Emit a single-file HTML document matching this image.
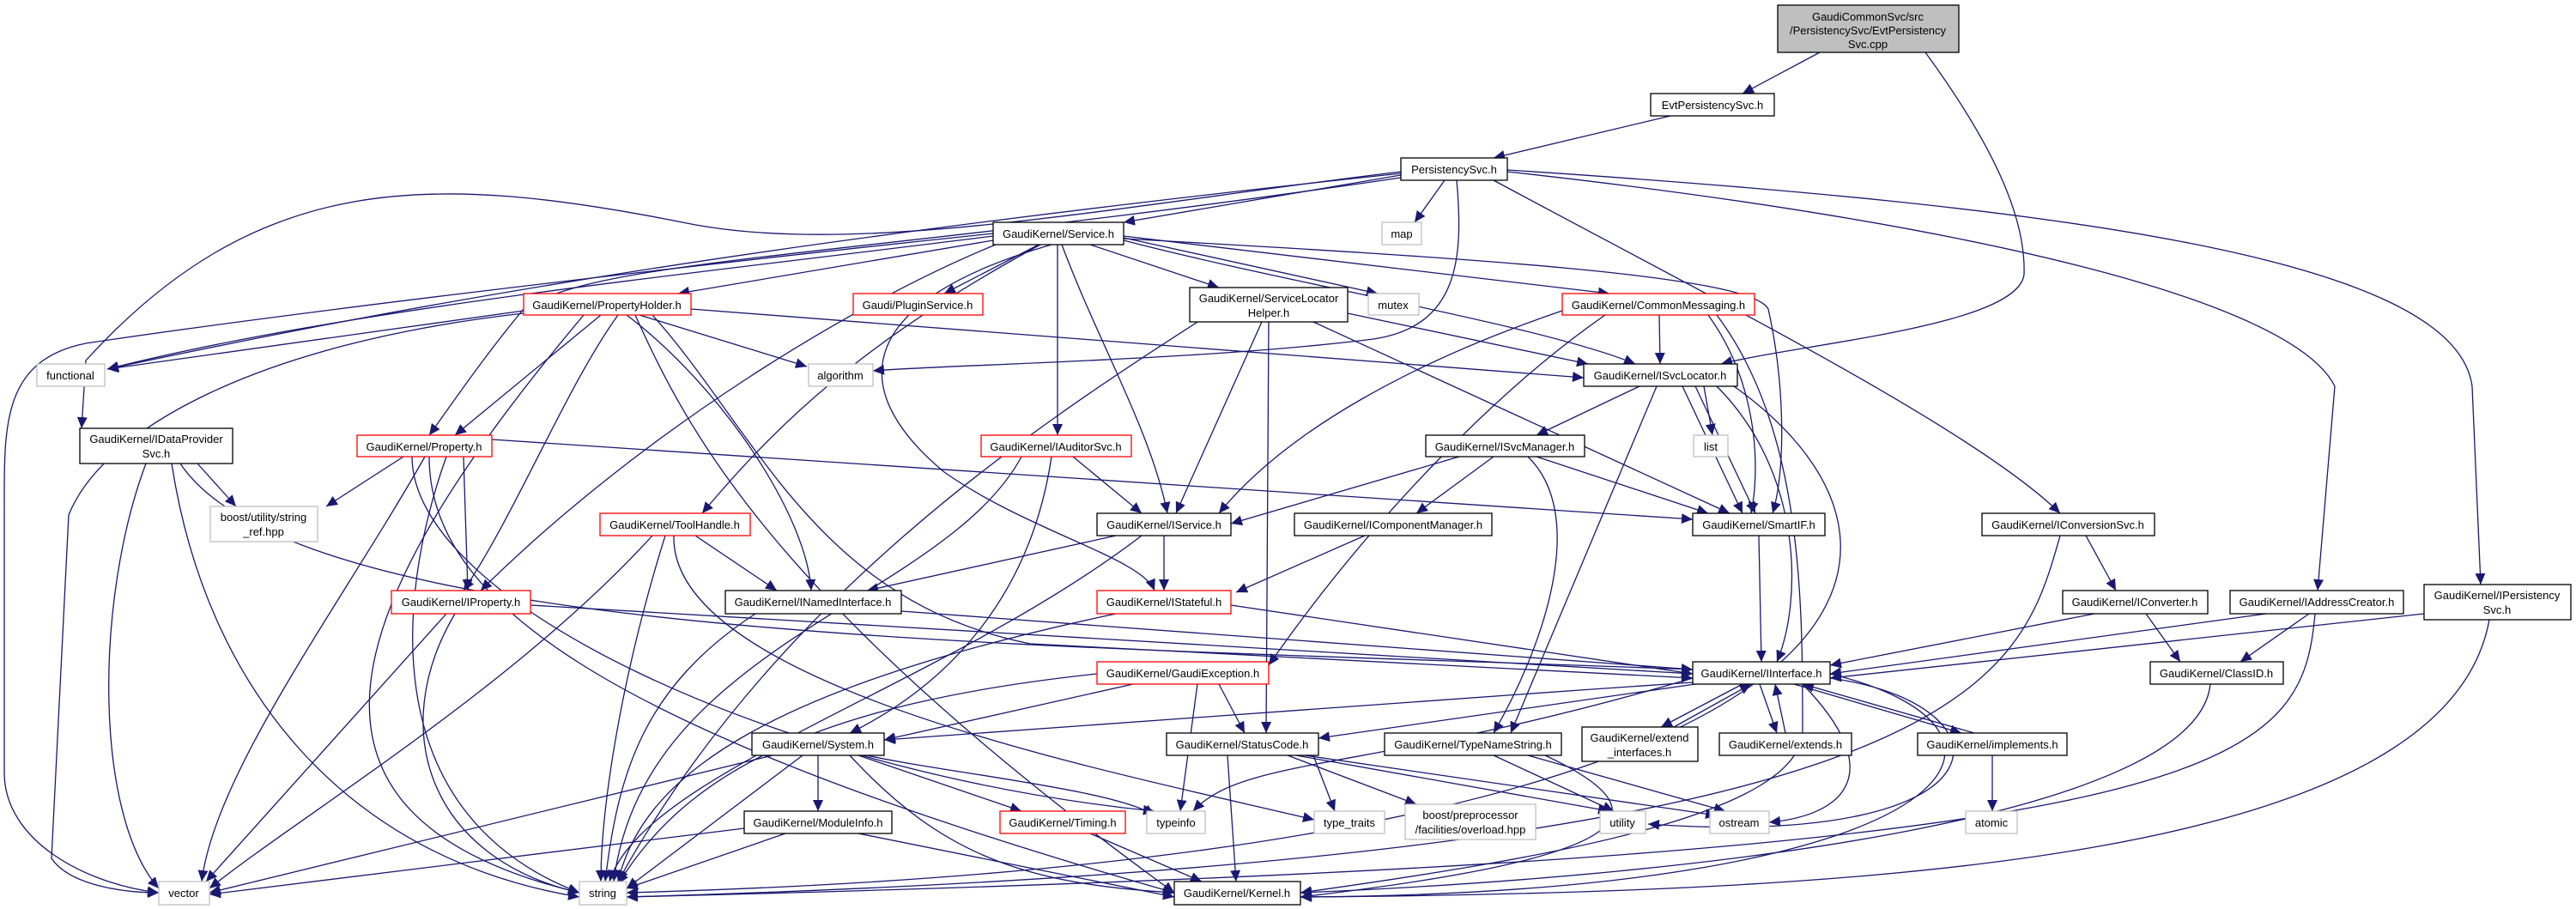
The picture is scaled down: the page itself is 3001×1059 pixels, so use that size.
<!DOCTYPE html>
<html><head><meta charset="utf-8"><style>
html,body{margin:0;padding:0;background:#fff;}
svg{display:block;}
text{font-family:"Liberation Sans",sans-serif;font-size:13px;fill:#000;}
.e{fill:none;stroke:#191970;stroke-width:1.3;marker-end:url(#a);}
.b rect{fill:#fff;stroke:#000;stroke-width:1.3;}
.r rect{fill:#fff;stroke:#ff0000;stroke-width:1.3;}
.g rect{fill:#fff;stroke:#bfbfbf;stroke-width:1.3;}
</style></head><body>
<svg width="3001" height="1059" viewBox="0 0 3001 1059" xmlns="http://www.w3.org/2000/svg">
<defs><marker id="a" markerUnits="userSpaceOnUse" markerWidth="14" markerHeight="12" refX="13" refY="6" orient="auto"><path d="M0,0 L13,6 L0,12 z" fill="#191970"/></marker></defs>
<g>
<path class="e" d="M2120,61 L2030,109"/>
<path class="e" d="M2243,61 C2330,180 2360,260 2358,320 C2350,380 2100,400 2005,424"/>
<path class="e" d="M1946,135 L1740,184"/>
<path class="e" d="M1632,204 L1309,259"/>
<path class="e" d="M1683,210 L1648,259"/>
<path class="e" d="M1697,210 C1705,300 1700,380 1600,395 C1400,420 1100,425 1017,432"/>
<path class="e" d="M1632,200 C1300,240 1000,300 800,260 C500,200 300,200 100,420 L95,499"/>
<path class="e" d="M1632,207 C1000,300 700,300 610,360 C560,420 520,480 500,507"/>
<path class="e" d="M1632,202 C900,280 500,350 125,430"/>
<path class="e" d="M1740,210 C2000,350 2300,500 2400,598"/>
<path class="e" d="M1756,200 C2300,260 2670,350 2720,450 L2700,688"/>
<path class="e" d="M1756,198 C2400,240 2860,300 2880,450 L2890,681"/>
<path class="e" d="M1157,280 L790,342"/>
<path class="e" d="M1210,285 L1100,342"/>
<path class="e" d="M1270,285 L1420,335"/>
<path class="e" d="M1309,277 L1605,342"/>
<path class="e" d="M1309,275 L1875,342"/>
<path class="e" d="M1309,280 C1500,330 1800,380 1905,424"/>
<path class="e" d="M1309,278 C1700,300 2040,320 2060,360 C2080,450 2080,550 2065,598"/>
<path class="e" d="M1232,285 L1232,507"/>
<path class="e" d="M1237,285 C1280,400 1340,500 1360,598"/>
<path class="e" d="M1225,285 C1000,350 980,450 1100,550 C1200,620 1330,650 1345,688"/>
<path class="e" d="M1212,285 C1000,400 900,500 818,598"/>
<path class="e" d="M1160,285 C1000,350 750,500 560,688"/>
<path class="e" d="M1157,275 C800,320 400,360 125,430"/>
<path class="e" d="M1157,272 C700,320 300,370 100,400 C0,420 5,500 5,600 L5,900 C5,980 100,1030 185,1040"/>
<path class="e" d="M610,362 L125,430"/>
<path class="e" d="M745,367 L940,427"/>
<path class="e" d="M610,365 C300,400 120,500 80,600 L60,1000 C80,1030 140,1040 185,1040"/>
<path class="e" d="M700,367 L530,507"/>
<path class="e" d="M720,367 C660,450 600,600 540,688"/>
<path class="e" d="M730,367 C840,450 940,600 945,688"/>
<path class="e" d="M805,360 L1845,440"/>
<path class="e" d="M680,367 C400,700 300,950 675,1040"/>
<path class="e" d="M760,367 C880,500 950,700 1200,750 L1972,790"/>
<path class="e" d="M740,367 C800,500 900,700 1368,1040"/>
<path class="e" d="M470,532 L380,590"/>
<path class="e" d="M540,532 L545,688"/>
<path class="e" d="M573,512 L1972,605"/>
<path class="e" d="M495,532 C400,700 250,900 235,1027"/>
<path class="e" d="M520,532 C460,700 440,950 675,1040"/>
<path class="e" d="M500,532 C500,700 700,850 1368,1040"/>
<path class="e" d="M480,532 C480,700 900,900 1345,945"/>
<path class="e" d="M230,540 L275,590"/>
<path class="e" d="M170,540 C110,700 110,950 185,1035"/>
<path class="e" d="M200,540 C240,800 400,1000 675,1045"/>
<path class="e" d="M210,540 C350,750 1200,750 1972,780"/>
<path class="e" d="M810,624 L905,688"/>
<path class="e" d="M760,624 C600,800 350,950 244,1035"/>
<path class="e" d="M775,624 C720,800 700,950 700,1027"/>
<path class="e" d="M785,624 C780,800 1300,900 1531,955"/>
<path class="e" d="M1300,624 L1010,688"/>
<path class="e" d="M1356,624 L1356,688"/>
<path class="e" d="M1330,624 C1100,800 750,900 710,1027"/>
<path class="e" d="M1250,532 L1330,598"/>
<path class="e" d="M1225,532 C1200,700 1100,800 990,854"/>
<path class="e" d="M1190,532 C1100,700 750,750 715,1027"/>
<path class="e" d="M1470,375 L1370,598"/>
<path class="e" d="M1530,375 L2015,598"/>
<path class="e" d="M1570,365 L1850,424"/>
<path class="e" d="M1478,375 L1475,854"/>
<path class="e" d="M1400,372 C1200,500 900,700 720,1027"/>
<path class="e" d="M1933,367 L1934,424"/>
<path class="e" d="M1990,367 C2050,450 2050,550 2040,598"/>
<path class="e" d="M1820,362 C1650,420 1500,500 1420,598"/>
<path class="e" d="M1870,367 C1750,450 1600,600 1478,775"/>
<path class="e" d="M2000,367 C2100,500 2100,700 2100,850 C2100,950 1800,1000 1515,1040"/>
<path class="e" d="M1910,450 L1790,507"/>
<path class="e" d="M1985,450 L1995,507"/>
<path class="e" d="M1960,450 L2030,598"/>
<path class="e" d="M1975,450 L2045,598"/>
<path class="e" d="M2000,450 C2100,550 2100,700 2070,771"/>
<path class="e" d="M1930,450 L1760,854"/>
<path class="e" d="M2020,450 C2300,650 2200,1000 730,1040"/>
<path class="e" d="M1700,532 L1434,610"/>
<path class="e" d="M1740,532 L1650,598"/>
<path class="e" d="M1790,532 L1990,598"/>
<path class="e" d="M1780,532 C1850,600 1800,750 1740,854"/>
<path class="e" d="M1590,624 L1440,690"/>
<path class="e" d="M2049,624 L2052,771"/>
<path class="e" d="M2430,624 L2465,688"/>
<path class="e" d="M2400,624 C2350,800 2300,1000 730,1045"/>
<path class="e" d="M2440,715 L2132,775"/>
<path class="e" d="M2500,715 L2540,771"/>
<path class="e" d="M2640,715 L2132,785"/>
<path class="e" d="M2690,715 L2610,771"/>
<path class="e" d="M2697,715 C2680,900 2600,1000 730,1045"/>
<path class="e" d="M2824,715 L2132,790"/>
<path class="e" d="M2900,722 C2850,1000 2200,1040 1515,1045"/>
<path class="e" d="M2575,797 C2560,950 2000,1020 1515,1040"/>
<path class="e" d="M1972,795 C1600,820 1200,850 1030,862"/>
<path class="e" d="M1975,797 L1536,860"/>
<path class="e" d="M2030,797 L1935,847"/>
<path class="e" d="M1950,847 L2040,797"/>
<path class="e" d="M2050,797 L2070,854"/>
<path class="e" d="M2080,854 L2068,797"/>
<path class="e" d="M2090,797 L2285,854"/>
<path class="e" d="M2300,854 L2100,797"/>
<path class="e" d="M2100,797 C2200,900 2150,950 2061,958"/>
<path class="e" d="M2132,790 C2350,820 2350,990 1920,960"/>
<path class="e" d="M2132,785 C2400,850 2300,1040 1515,1045"/>
<path class="e" d="M1972,790 C1600,900 1450,880 1390,945"/>
<path class="e" d="M1050,712 L1972,780"/>
<path class="e" d="M618,705 L1972,785"/>
<path class="e" d="M1434,705 L1972,785"/>
<path class="e" d="M1300,715 C900,800 750,900 720,1027"/>
<path class="e" d="M520,715 L240,1027"/>
<path class="e" d="M530,715 C450,850 500,1000 675,1040"/>
<path class="e" d="M880,715 C750,800 720,900 705,1027"/>
<path class="e" d="M1320,797 L1030,862"/>
<path class="e" d="M1420,797 L1450,854"/>
<path class="e" d="M1278,785 C950,820 800,900 720,1030"/>
<path class="e" d="M1395,797 L1375,945"/>
<path class="e" d="M953,880 L953,945"/>
<path class="e" d="M1000,880 L1190,945"/>
<path class="e" d="M1010,880 C1100,900 1300,920 1345,950"/>
<path class="e" d="M900,880 L244,1040"/>
<path class="e" d="M935,880 L730,1035"/>
<path class="e" d="M990,880 C1100,1000 1200,1030 1368,1040"/>
<path class="e" d="M1530,880 L1555,945"/>
<path class="e" d="M1500,880 L1650,937"/>
<path class="e" d="M1510,880 L1875,945"/>
<path class="e" d="M1520,880 L2000,950"/>
<path class="e" d="M1430,880 L1440,1027"/>
<path class="e" d="M1740,880 L1880,945"/>
<path class="e" d="M1800,880 C1950,950 1900,1000 1515,1045"/>
<path class="e" d="M1780,880 L2010,945"/>
<path class="e" d="M867,965 L244,1042"/>
<path class="e" d="M915,971 L730,1035"/>
<path class="e" d="M1000,971 L1368,1045"/>
<path class="e" d="M1270,971 L1400,1027"/>
<path class="e" d="M2321,880 L2321,945"/>
</g>
<g text-anchor="middle">
<g class="b"><rect x="2071" y="6" width="211" height="55" style="fill:#bfbfbf"/><text x="2176" y="24">GaudiCommonSvc/src</text><text x="2176" y="40">/PersistencySvc/EvtPersistency</text><text x="2176" y="56">Svc.cpp</text></g>
<g class="b"><rect x="1923" y="109" width="144" height="26"/><text x="1995" y="127">EvtPersistencySvc.h</text></g>
<g class="b"><rect x="1632" y="184" width="124" height="26"/><text x="1694" y="202">PersistencySvc.h</text></g>
<g class="g"><rect x="1610" y="259" width="46" height="26"/><text x="1633" y="277">map</text></g>
<g class="b"><rect x="1157" y="259" width="152" height="26"/><text x="1233" y="277">GaudiKernel/Service.h</text></g>
<g class="r"><rect x="610" y="342" width="195" height="25"/><text x="707" y="360">GaudiKernel/PropertyHolder.h</text></g>
<g class="r"><rect x="994" y="342" width="151" height="25"/><text x="1069" y="360">Gaudi/PluginService.h</text></g>
<g class="b"><rect x="1386" y="335" width="184" height="40"/><text x="1478" y="352">GaudiKernel/ServiceLocator</text><text x="1478" y="369">Helper.h</text></g>
<g class="g"><rect x="1594" y="342" width="59" height="25"/><text x="1623" y="360">mutex</text></g>
<g class="r"><rect x="1820" y="342" width="224" height="25"/><text x="1932" y="360">GaudiKernel/CommonMessaging.h</text></g>
<g class="g"><rect x="43" y="424" width="79" height="26"/><text x="82" y="442">functional</text></g>
<g class="g"><rect x="942" y="424" width="75" height="26"/><text x="979" y="442">algorithm</text></g>
<g class="b"><rect x="1845" y="424" width="179" height="26"/><text x="1934" y="442">GaudiKernel/ISvcLocator.h</text></g>
<g class="b"><rect x="93" y="499" width="178" height="41"/><text x="182" y="516">GaudiKernel/IDataProvider</text><text x="182" y="533">Svc.h</text></g>
<g class="r"><rect x="416" y="507" width="157" height="25"/><text x="494" y="525">GaudiKernel/Property.h</text></g>
<g class="r"><rect x="1143" y="507" width="175" height="25"/><text x="1230" y="525">GaudiKernel/IAuditorSvc.h</text></g>
<g class="b"><rect x="1661" y="507" width="185" height="25"/><text x="1753" y="525">GaudiKernel/ISvcManager.h</text></g>
<g class="g"><rect x="1973" y="507" width="40" height="25"/><text x="1993" y="525">list</text></g>
<g class="g"><rect x="245" y="590" width="125" height="41"/><text x="307" y="607">boost/utility/string</text><text x="307" y="624">_ref.hpp</text></g>
<g class="r"><rect x="699" y="598" width="175" height="26"/><text x="786" y="616">GaudiKernel/ToolHandle.h</text></g>
<g class="b"><rect x="1278" y="598" width="156" height="26"/><text x="1356" y="616">GaudiKernel/IService.h</text></g>
<g class="b"><rect x="1508" y="598" width="230" height="26"/><text x="1623" y="616">GaudiKernel/IComponentManager.h</text></g>
<g class="b"><rect x="1972" y="598" width="154" height="26"/><text x="2049" y="616">GaudiKernel/SmartIF.h</text></g>
<g class="b"><rect x="2309" y="598" width="201" height="26"/><text x="2409" y="616">GaudiKernel/IConversionSvc.h</text></g>
<g class="r"><rect x="456" y="688" width="162" height="27"/><text x="537" y="706">GaudiKernel/IProperty.h</text></g>
<g class="b"><rect x="845" y="688" width="205" height="27"/><text x="947" y="706">GaudiKernel/INamedInterface.h</text></g>
<g class="r"><rect x="1278" y="688" width="156" height="27"/><text x="1356" y="706">GaudiKernel/IStateful.h</text></g>
<g class="b"><rect x="2403" y="688" width="169" height="27"/><text x="2487" y="706">GaudiKernel/IConverter.h</text></g>
<g class="b"><rect x="2598" y="688" width="202" height="27"/><text x="2699" y="706">GaudiKernel/IAddressCreator.h</text></g>
<g class="b"><rect x="2824" y="681" width="171" height="41"/><text x="2909" y="698">GaudiKernel/IPersistency</text><text x="2909" y="715">Svc.h</text></g>
<g class="r"><rect x="1278" y="771" width="200" height="26"/><text x="1378" y="789">GaudiKernel/GaudiException.h</text></g>
<g class="b"><rect x="1972" y="771" width="160" height="26"/><text x="2052" y="789">GaudiKernel/IInterface.h</text></g>
<g class="b"><rect x="2505" y="771" width="155" height="26"/><text x="2582" y="789">GaudiKernel/ClassID.h</text></g>
<g class="b"><rect x="876" y="854" width="154" height="26"/><text x="953" y="872">GaudiKernel/System.h</text></g>
<g class="b"><rect x="1359" y="854" width="177" height="26"/><text x="1447" y="872">GaudiKernel/StatusCode.h</text></g>
<g class="b"><rect x="1613" y="854" width="206" height="26"/><text x="1716" y="872">GaudiKernel/TypeNameString.h</text></g>
<g class="b"><rect x="1843" y="847" width="135" height="40"/><text x="1910" y="864">GaudiKernel/extend</text><text x="1910" y="881">_interfaces.h</text></g>
<g class="b"><rect x="2003" y="854" width="154" height="26"/><text x="2080" y="872">GaudiKernel/extends.h</text></g>
<g class="b"><rect x="2234" y="854" width="174" height="26"/><text x="2321" y="872">GaudiKernel/implements.h</text></g>
<g class="b"><rect x="867" y="945" width="172" height="26"/><text x="953" y="963">GaudiKernel/ModuleInfo.h</text></g>
<g class="r"><rect x="1165" y="945" width="146" height="26"/><text x="1238" y="963">GaudiKernel/Timing.h</text></g>
<g class="g"><rect x="1336" y="945" width="68" height="26"/><text x="1370" y="963">typeinfo</text></g>
<g class="g"><rect x="1531" y="945" width="82" height="26"/><text x="1572" y="963">type_traits</text></g>
<g class="g"><rect x="1637" y="937" width="152" height="41"/><text x="1713" y="954">boost/preprocessor</text><text x="1713" y="971">/facilities/overload.hpp</text></g>
<g class="g"><rect x="1864" y="945" width="53" height="26"/><text x="1890" y="963">utility</text></g>
<g class="g"><rect x="1992" y="945" width="69" height="26"/><text x="2026" y="963">ostream</text></g>
<g class="g"><rect x="2290" y="945" width="60" height="26"/><text x="2320" y="963">atomic</text></g>
<g class="g"><rect x="185" y="1027" width="59" height="27"/><text x="214" y="1045">vector</text></g>
<g class="g"><rect x="675" y="1027" width="55" height="27"/><text x="702" y="1045">string</text></g>
<g class="b"><rect x="1368" y="1027" width="147" height="27"/><text x="1441" y="1045">GaudiKernel/Kernel.h</text></g>
</g>
</svg>
</body></html>
